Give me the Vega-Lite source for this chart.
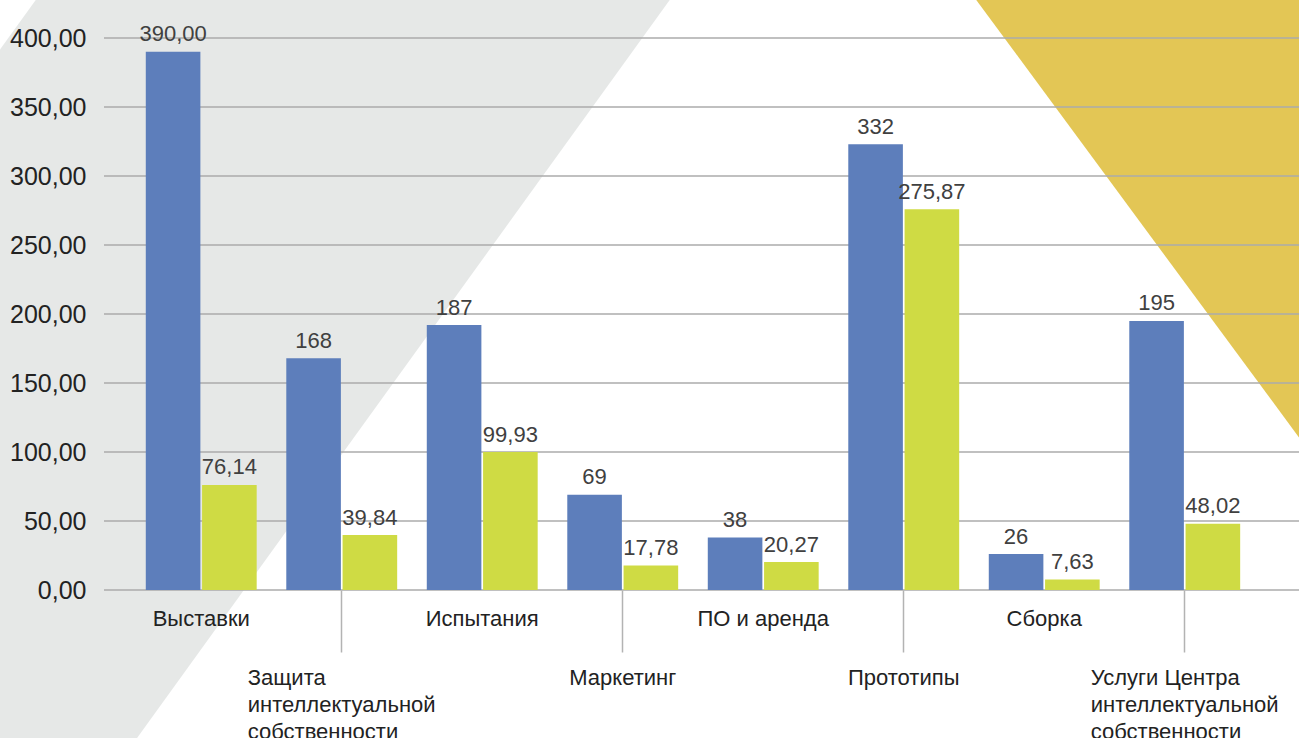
{
  "$schema": "https://vega.github.io/schema/vega-lite/v6.json",
  "autosize": "none",
  "width": 1195,
  "height": 552,
  "padding": {"left": 104, "right": 0, "top": 38, "bottom": 148},
  "background": "#ffffff",
  "config": {"view": {"stroke": null}, "font": "Liberation Sans", "axis": {"zindex": 1}},
  "datasets": {
    "bars": [
      {"category": "Выставки", "series": "1", "value": 390, "label": "390,00"},
      {"category": "Защита интеллектуальной собственности", "series": "1", "value": 168, "label": "168"},
      {"category": "Испытания", "series": "1", "value": 192, "label": "187"},
      {"category": "Маркетинг", "series": "1", "value": 69, "label": "69"},
      {"category": "ПО и аренда", "series": "1", "value": 38, "label": "38"},
      {"category": "Прототипы", "series": "1", "value": 323, "label": "332"},
      {"category": "Сборка", "series": "1", "value": 26, "label": "26"},
      {"category": "Услуги Центра интеллектуальной собственности", "series": "1", "value": 195, "label": "195"},
      {"category": "Выставки", "series": "2", "value": 76.14, "label": "76,14"},
      {"category": "Защита интеллектуальной собственности", "series": "2", "value": 39.84, "label": "39,84"},
      {"category": "Испытания", "series": "2", "value": 99.93, "label": "99,93"},
      {"category": "Маркетинг", "series": "2", "value": 17.78, "label": "17,78"},
      {"category": "ПО и аренда", "series": "2", "value": 20.27, "label": "20,27"},
      {"category": "Прототипы", "series": "2", "value": 275.87, "label": "275,87"},
      {"category": "Сборка", "series": "2", "value": 7.63, "label": "7,63"},
      {"category": "Услуги Центра интеллектуальной собственности", "series": "2", "value": 48.02, "label": "48,02"}
    ],
    "grid": [{"v": 0}, {"v": 50}, {"v": 100}, {"v": 150}, {"v": 200}, {"v": 250}, {"v": 300}, {"v": 350}, {"v": 400}],
    "decor": [
      {"shape": "band", "y": 427.8, "xa": -1.176, "xb": 3.336},
      {"shape": "band", "y": -107.3, "xa": -4.97, "xb": -0.457},
      {"shape": "triangle", "y": 427.8, "xa": 5.514, "xb": 8.6},
      {"shape": "triangle", "y": 2.0, "xa": 8.6, "xb": 8.6}
    ]
  },
  "resolve": {"scale": {"x": "independent", "y": "independent"}, "axis": {"x": "independent", "y": "independent"}},
  "layer": [
    {
      "data": {"name": "decor"},
      "layer": [
        {
          "transform": [{"filter": "datum.shape == 'band'"}],
          "mark": {"type": "area", "orient": "horizontal", "color": "#e6e8e7", "clip": false},
          "encoding": {
            "y": {"field": "y", "type": "quantitative", "scale": {"domain": [0, 400], "nice": false, "zero": false}, "axis": null},
            "x": {"field": "xa", "type": "quantitative", "scale": {"domain": [-0.692, 7.813], "nice": false, "zero": false}, "axis": null},
            "x2": {"field": "xb"}
          }
        },
        {
          "transform": [{"filter": "datum.shape == 'triangle'"}],
          "mark": {"type": "area", "orient": "horizontal", "color": "#e3c655", "clip": false},
          "encoding": {
            "y": {"field": "y", "type": "quantitative", "scale": {"domain": [0, 400], "nice": false, "zero": false}, "axis": null},
            "x": {"field": "xa", "type": "quantitative", "scale": {"domain": [-0.692, 7.813], "nice": false, "zero": false}, "axis": null},
            "x2": {"field": "xb"}
          }
        }
      ]
    },
    {
      "layer": [
        {
          "data": {"name": "grid"},
          "mark": {"type": "rule", "color": "#ababab", "strokeWidth": 1.6},
          "encoding": {
            "y": {"field": "v", "type": "quantitative", "scale": {"domain": [0, 400], "nice": false}}
          }
        },
        {
          "data": {"name": "bars"},
          "mark": {"type": "bar"},
          "encoding": {
            "x": {
              "field": "category", "type": "nominal",
              "sort": ["Выставки", "Защита интеллектуальной собственности", "Испытания", "Маркетинг", "ПО и аренда", "Прототипы", "Сборка", "Услуги Центра интеллектуальной собственности"],
              "scale": {"paddingInner": 0, "paddingOuter": 0.2527, "align": 0.38},
              "axis": {
                "title": null,
                "domain": false,
                "zindex": 1,
                "tickSize": 62,
                "tickColor": "#b3b3b3",
                "tickWidth": 1.5,
                "tickOpacity": {"condition": {"test": "indexof(['Защита интеллектуальной собственности','Маркетинг','Прототипы','Услуги Центра интеллектуальной собственности'], datum.value) >= 0", "value": 1}, "value": 0},
                "labelAngle": 0,
                "labelFont": "Liberation Sans",
                "labelFontSize": 22,
                "labelColor": "#222222",
                "labelBaseline": "top",
                "labelLineHeight": 27,
                "labelOverlap": false,
                "labelBound": false,
                "labelLimit": 0,
                "labelPadding": {"condition": {"test": "indexof(['Защита интеллектуальной собственности','Маркетинг','Прототипы','Услуги Центра интеллектуальной собственности'], datum.value) >= 0", "value": 15.6}, "value": -43.4},
                "labelAlign": {"condition": {"test": "datum.value == 'Защита интеллектуальной собственности' || datum.value == 'Услуги Центра интеллектуальной собственности'", "value": "left"}, "value": "center"},
                "labelOffset": {"condition": {"test": "datum.value == 'Защита интеллектуальной собственности' || datum.value == 'Услуги Центра интеллектуальной собственности'", "value": -94}, "value": 0},
                "labelExpr": "datum.value == 'Защита интеллектуальной собственности' ? ['Защита', 'интеллектуальной', 'собственности'] : datum.value == 'Услуги Центра интеллектуальной собственности' ? ['Услуги Центра', 'интеллектуальной', 'собственности'] : datum.label"
              }
            },
            "xOffset": {"field": "series", "type": "nominal", "scale": {"paddingInner": 0.03, "paddingOuter": 0.263}},
            "y": {
              "field": "value", "type": "quantitative",
              "scale": {"domain": [0, 400], "nice": false},
              "axis": {
                "title": null, "grid": false, "domain": false, "ticks": false, "zindex": 1,
                "values": [0, 50, 100, 150, 200, 250, 300, 350, 400],
                "labelPadding": 18, "labelFontSize": 25, "labelColor": "#222222", "labelFont": "Liberation Sans",
                "labelExpr": "replace(format(datum.value, '.2f'), '.', ',')"
              }
            },
            "color": {"field": "series", "type": "nominal", "scale": {"domain": ["1", "2"], "range": ["#5d7ebb", "#cfdb44"]}, "legend": null}
          }
        },
        {
          "data": {"name": "bars"},
          "mark": {"type": "text", "baseline": "alphabetic", "dy": -10.5, "fontSize": 22, "font": "Liberation Sans", "color": "#404040"},
          "encoding": {
            "x": {"field": "category", "type": "nominal", "sort": ["Выставки", "Защита интеллектуальной собственности", "Испытания", "Маркетинг", "ПО и аренда", "Прототипы", "Сборка", "Услуги Центра интеллектуальной собственности"]},
            "xOffset": {"field": "series", "type": "nominal"},
            "y": {"field": "value", "type": "quantitative", "scale": {"domain": [0, 400], "nice": false}},
            "text": {"field": "label"}
          }
        }
      ]
    }
  ]
}
